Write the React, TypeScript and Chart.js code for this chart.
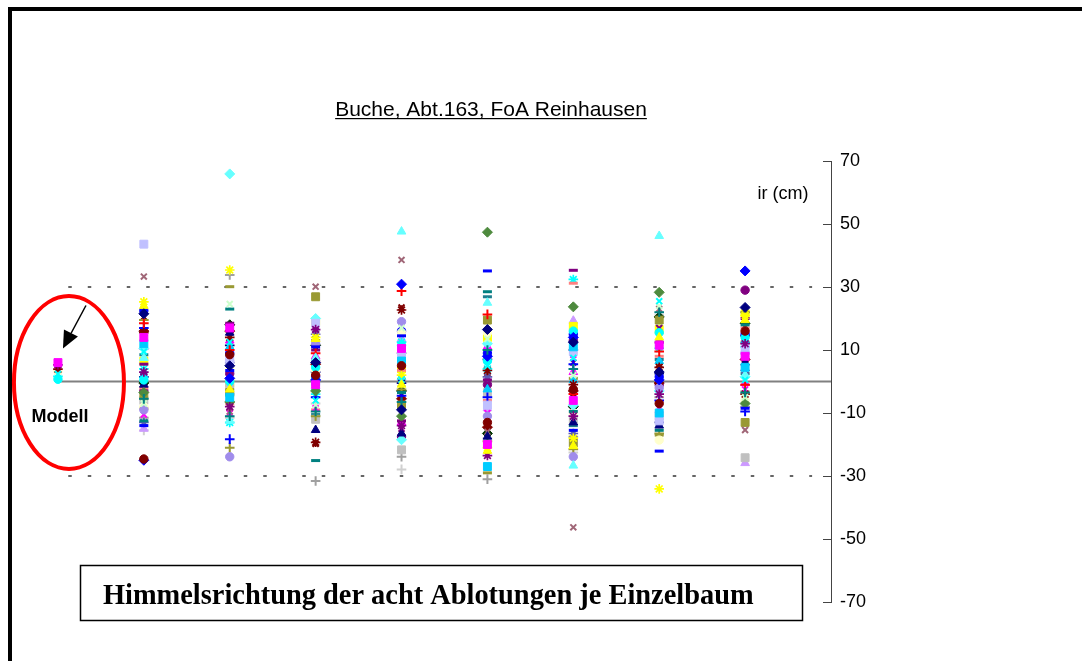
import React, { useEffect, useRef } from 'react';
import { Chart, registerables } from 'chart.js';

Chart.register(...registerables);

const WIDTH = 1082;
const HEIGHT = 661;

// Deviation ir (cm) of each plumb reading, one value per tree (48 trees)
const nord = [
  21.5, 14.0, 24.0, 9.5, 3.0, -24.6, -5.5, -14.0, -25.0, 12.0, 7.5, -7.0,
  25.3, 0.5, 18.5, -12.5, -3.5, 43.6, -1.0, 33.3, 15.5, -9.0, 17.0, 5.5,
  10.5, -4.5, 2.0, -10.5, -13.0, -8.0, 19.5, -2.0, 16.0, -6.0, 11.0, 13.0,
  4.0, 22.5, -11.5, 8.5, -0.5, 6.5, -15.0, 20.5, 1.5, -3.0, -15.5, -8.5,
];
const nordost = [
  5.0, 17.0, -2.5, 12.5, -8.0, 8.5, -11.0, 3.5, 1.0, -5.0, -12.5, 24.6,
  35.4, 0.0, 10.0, 23.0, -6.5, 7.0, 15.5, -9.5, 14.0, -23.9, -18.3, 18.5,
  65.9, -3.5, 11.0, -10.0, 6.0, 4.5, -21.0, -7.0, 16.0, -1.5, 13.0, 2.0,
  -13.0, 9.0, 33.8, -4.0, 18.0, -0.5, 7.5, -8.5, 11.5, 2.5, -11.5, 30.1,
];
const ost = [
  6.0, -1.0, 13.5, -6.0, 16.5, 2.0, -9.5, 11.0, 0.5, 0.0, 7.5, -7.5,
  14.0, 4.5, 9.0, -25.1, -3.0, 18.5, -15.4, 30.1, -19.3, 12.0, -5.0, 10.0,
  20.0, 26.9, -2.0, -8.5, 15.0, 3.5, -11.0, -9.0, 5.5, -12.0, 8.0, 17.5,
  -4.0, 1.5, -31.6, -10.5, 11.5, 19.0, -1.5, -19.8, 3.0, 6.5, -7.0, 13.0,
];
const suedost = [
  -9.0, 10.5, -1.0, 0.5, -14.0, 5.0, -6.5, 14.5, 30.9, 6.5, 47.6, 17.0,
  2.0, 11.5, 28.7, -3.5, -11.0, 8.0, -16.5, 38.6, 22.7, 19.0, -4.5, -12.5,
  -18.5, -7.5, 1.5, -10.0, 9.0, 15.5, -2.5, 3.5, -5.5, -21.7, -13.0, -15.0,
  12.5, 16.0, -23.9, -8.0, -3.0, 4.0, 13.5, 23.5, -0.5, -17.5, -27.9, 7.0,
];
const sued = [
  16.5, -20.0, -22.0, 5.0, -23.5, -13.0, 10.0, 35.1, 8.0, -27.0, 25.0, 13.5,
  -21.0, 6.5, 21.3, 28.5, 47.4, -7.5, -17.5, -16.0, 3.5, -11.0, -5.0, 0.5,
  12.0, 19.5, -2.5, -10.0, 1.5, 15.5, -19.0, -6.0, -14.5, -3.5, 11.0, -12.0,
  4.0, 9.0, -31.0, 26.9, -16.5, 14.0, -8.5, 2.5, 7.0, -1.0, -18.0, -29.0,
];
const suedwest = [
  12.5, -6.0, -20.5, 7.5, -11.0, -2.5, 4.0, -15.5, 14.0, 11.0, -26.7, 2.0,
  -18.0, 16.0, -4.0, -9.5, 23.7, 9.5, -13.0, -46.3, -1.0, -23.9, 5.5, 35.3,
  -7.5, -19.5, 0.5, 8.5, -16.5, -10.0, -21.5, 31.2, -3.0, -12.0, 3.0, 6.0,
  32.4, 15.0, -17.5, -14.0, -8.0, 17.5, 19.3, -5.0, 10.0, 13.0, -22.5, 1.0,
];
const west = [
  3.0, 11.5, 14.0, 25.5, -4.0, -7.0, 22.0, -22.1, 0.5, -10.0, 46.2, 24.0,
  -34.1, 15.5, 9.5, -15.5, 28.3, -12.5, -14.0, 23.0, 4.5, -2.0, -6.0, 12.5,
  -3.0, 19.5, 6.5, -8.5, -13.0, -18.6, -16.5, 8.0, -0.5, -11.0, 13.0, 17.0,
  10.5, 1.5, -5.0, 7.0, 20.5, 16.5, -9.0, 5.5, 2.5, -1.0, 21.0, -17.0,
];
const nordwest = [
  23.5, 8.0, 19.5, 0.5, 12.0, 16.0, -3.5, -8.5, 35.1, 4.5, 2.0, -5.0,
  21.0, 14.0, -1.0, 18.0, -7.0, 10.5, 6.0, -15.4, -4.0, 9.0, -9.5, 20.0,
  1.5, -13.0, 13.0, -2.5, 3.5, -6.0, 22.0, 17.0, 7.0, -24.2, -0.5, 5.5,
  11.0, 15.0, -8.0, 2.5, 18.5, 21.5, -25.9, 9.5, 14.5, 29.0, -3.0, 12.5,
];

const ablotungen = [nord, nordost, ost, suedost, sued, suedwest, west, nordwest];

// Model values in the first column and the trees they belong to
const modellBaeume = [1, 4, 27, 20, 29, 3, 36, 13];
const modellWerte = [6.0, 5.3, 4.6, 3.9, 3.2, 2.4, 1.6, 0.7];

const yTicks = [70, 50, 30, 10, -10, -30, -50, -70];
const grenzwerte = [30, -30];

const markerFolge = ['rectRot', 'rect', 'triangle', 'crossRot', 'star', 'circle', 'cross', 'line'];
const baumFarben = [
  '#000080', '#FF00FF', '#FFFF00', '#00FFFF', '#800080', '#800000', '#008080', '#0000FF',
  '#0000FF', '#00CCFF', '#66FFFF', '#CCFFCC', '#FFFF00', '#00FFFF', '#FF0000', '#008080',
  '#4E8A3E', '#C0C0FF', '#000080', '#A06677', '#800000', '#A08CEB', '#0000FF', '#800080',
  '#66FFFF', '#999933', '#00CCFF', '#FF00FF', '#5A5AB4', '#FFFFCC', '#999933', '#FF8080',
  '#800000', '#C0C0C0', '#FF00FF', '#800080', '#00FFFF', '#0000FF', '#A0A0A0', '#1F7F8F',
  '#003300', '#FFFF00', '#CC99FF', '#800000', '#000080', '#800080', '#D0D0D0', '#999933',
];

const markerRadius: Record<string, number> = {
  rectRot: 5, rect: 5.6, triangle: 5, crossRot: 4.2, star: 4.8, circle: 4.2, cross: 4.8, line: 4.5,
};
const markerStrich: Record<string, number> = {
  rectRot: 1, rect: 1, triangle: 1, crossRot: 2, star: 1.7, cross: 2, line: 3,
};

const SANS = '"Liberation Sans", Arial, sans-serif';
const SERIF = '"Liberation Serif", "Times New Roman", serif';

const decor = {
  id: 'decor',
  afterDatasetsDraw(chart: any) {
    const { ctx, scales } = chart;
    const x = scales.x;
    const y = scales.y;
    ctx.save();

    // inward tick marks on the value axis
    const ax = y.left;
    ctx.strokeStyle = '#444';
    ctx.lineWidth = 1;
    for (const v of yTicks) {
      const py = Math.round(y.getPixelForValue(v)) + 0.5;
      ctx.beginPath();
      ctx.moveTo(ax - 8, py);
      ctx.lineTo(ax, py);
      ctx.stroke();
    }

    // title, underlined
    ctx.fillStyle = '#000';
    ctx.font = `21px ${SANS}`;
    ctx.textAlign = 'center';
    ctx.textBaseline = 'alphabetic';
    const title = 'Buche, Abt.163, FoA Reinhausen';
    const tw = ctx.measureText(title).width;
    ctx.fillText(title, 491, 116);
    ctx.fillRect(491 - tw / 2, 118, tw, 1.2);

    // axis unit
    ctx.font = `18px ${SANS}`;
    ctx.fillText('ir (cm)', 783, 199);

    // model marker: ellipse, arrow and label
    const mx = x.getPixelForValue(1);
    const my = y.getPixelForValue(0);
    ctx.strokeStyle = '#FF0000';
    ctx.lineWidth = 4;
    ctx.beginPath();
    ctx.ellipse(mx + 11, my + 1, 55, 86.5, 0, 0, Math.PI * 2);
    ctx.stroke();

    ctx.strokeStyle = '#000';
    ctx.lineWidth = 1.5;
    ctx.beginPath();
    ctx.moveTo(mx + 28, my - 76);
    ctx.lineTo(mx + 13, my - 48);
    ctx.stroke();
    ctx.fillStyle = '#000';
    ctx.beginPath();
    ctx.moveTo(mx + 5, my - 33);
    ctx.lineTo(mx + 20, my - 45);
    ctx.lineTo(mx + 6, my - 52);
    ctx.closePath();
    ctx.fill();

    ctx.font = `bold 18px ${SANS}`;
    ctx.fillText('Modell', mx + 2, my + 40.5);

    // caption box
    ctx.strokeStyle = '#000';
    ctx.lineWidth = 1.5;
    ctx.strokeRect(80.5, 565.5, 722, 55);
    ctx.font = `bold 28.4px ${SERIF}`;
    ctx.textAlign = 'left';
    ctx.fillText('Himmelsrichtung der acht Ablotungen je Einzelbaum', 103, 604);

    ctx.restore();
  },
};

export default function App() {
  const ref = useRef<HTMLCanvasElement | null>(null);

  useEffect(() => {
    const canvas = ref.current;
    if (!canvas) return;

    const baumDatasets = baumFarben.map((farbe, i) => {
      const shape = markerFolge[i % markerFolge.length];
      const pts = ablotungen.map((werte, d) => ({ x: d + 2, y: werte[i] }));
      const m = modellBaeume.indexOf(i);
      if (m >= 0) pts.unshift({ x: 1, y: modellWerte[m] });
      return {
        label: `Baum ${i + 1}`,
        data: pts,
        showLine: false,
        pointStyle: shape,
        pointRadius: markerRadius[shape],
        backgroundColor: farbe,
        borderColor: farbe,
        pointBackgroundColor: farbe,
        pointBorderColor: farbe,
        pointBorderWidth: markerStrich[shape],
        order: 1,
      };
    });

    const nullLinie = {
      label: 'Null',
      data: [{ x: 1, y: 0 }, { x: 10, y: 0 }],
      showLine: true,
      borderColor: '#808080',
      borderWidth: 2,
      pointRadius: 0,
      order: 100,
    };

    const grenzLinien = grenzwerte.map((g) => ({
      label: `Grenze ${g}`,
      data: [{ x: 1.12, y: g }, { x: 9.78, y: g }],
      showLine: true,
      borderColor: '#333',
      borderWidth: 1.5,
      borderDash: [3.5, 16],
      pointRadius: 0,
      order: 100,
    }));

    const chart = new Chart(canvas, {
      type: 'scatter',
      data: { datasets: [...baumDatasets, nullLinie, ...grenzLinien] as any },
      options: {
        responsive: false,
        animation: false,
        devicePixelRatio: 1,
        events: [],
        layout: { padding: { left: 15, right: WIDTH - 831 - 60, top: 161, bottom: HEIGHT - 602 } },
        plugins: {
          legend: { display: false },
          title: { display: false },
          tooltip: { enabled: false },
        },
        scales: {
          x: { type: 'linear', min: 0.5, max: 10, display: false },
          y: {
            type: 'linear',
            position: 'right',
            min: -70,
            max: 70,
            afterBuildTicks: (s: any) => {
              s.ticks = yTicks.map((value) => ({ value }));
            },
            afterFit: (s: any) => {
              s.width = 60;
            },
            grid: { display: true, drawOnChartArea: false, drawTicks: false },
            border: { display: true, color: '#444', width: 1 },
            ticks: {
              color: '#000',
              padding: 9,
              font: { family: SANS, size: 18 },
              callback: (v: any) => String(v),
            },
          },
        },
      } as any,
      plugins: [decor],
    });

    return () => chart.destroy();
  }, []);

  return (
    <div style={{ position: 'fixed', left: 0, top: 0, width: WIDTH, height: HEIGHT, overflow: 'hidden', background: '#fff' }}>
      <div
        style={{
          position: 'absolute',
          left: 8,
          top: 7,
          width: 1200,
          height: 800,
          border: '4px solid #000',
        }}
      />
      <canvas
        ref={ref}
        width={WIDTH}
        height={HEIGHT}
        style={{ position: 'absolute', left: 0, top: 0, width: WIDTH, height: HEIGHT }}
      />
    </div>
  );
}
